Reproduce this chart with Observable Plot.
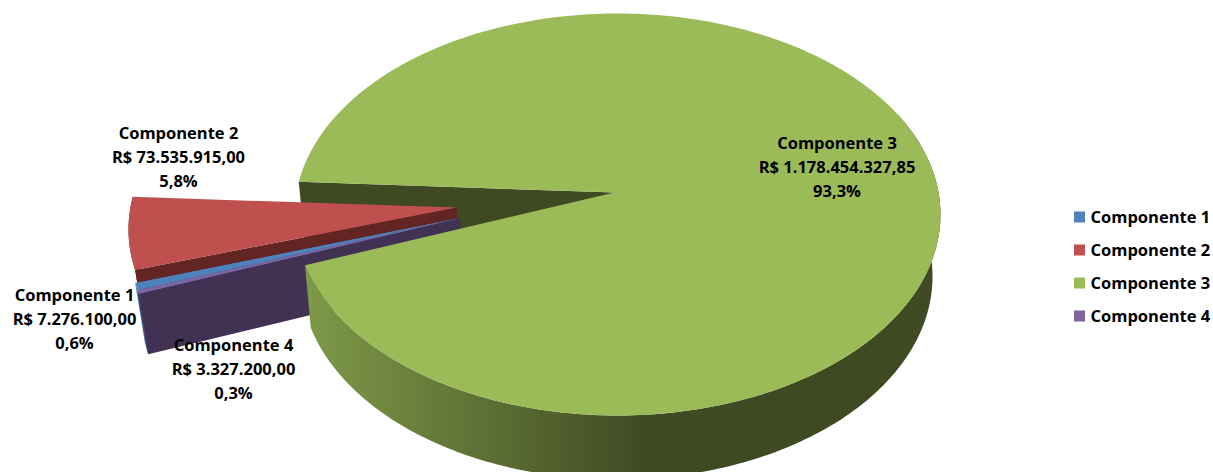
<!DOCTYPE html>
<html>
<head>
<meta charset="utf-8">
<script src="https://cdn.jsdelivr.net/npm/d3@7"></script>
<script src="https://cdn.jsdelivr.net/npm/@observablehq/plot@0.6"></script>
<style>
  html, body { margin: 0; padding: 0; background: #fff; }
  svg { display: block; }
</style>
</head>
<body>
<div id="chart"></div>
<script>
// Investment split between the four components
const names = ["Componente 1", "Componente 2", "Componente 3", "Componente 4"];
const values = [7276100.00, 73535915.00, 1178454327.85, 3327200.00];
const topColors = ["#4f81bd", "#c0504d", "#9bbb59", "#8064a2"];
const wallColors = ["#4f81bd", "#632523", "url(#greenWall)", "#413253"];
const legendRows = [217, 250, 283, 316];

// Where each wedge sits after being pulled out of the pie: centre of the
// elliptical rim, tip of the wedge on the top face, and the offset of the
// bottom face below the top one
const rims = [
  {cx: 451, cy: 242, tipX: 456.5, tipY: 218, lean: 3, depth: 60},
  {cx: 451, cy: 229, tipX: 456, tipY: 207, lean: 3, depth: 60},
  {cx: 617, cy: 214, tipX: 614, tipY: 192, lean: -1, depth: 62},
  {cx: 450.5, cy: 242.5, tipX: 459.5, tipY: 217.5, lean: 3, depth: 60}
];
// Centre of the middle line of each data label
const labelSpots = [[178, 158], [74, 320], [836.5, 168], [233, 370]];
const labelOrder = [1, 0, 2, 3];

const rx = 323, ry = 201;         // top face radii
const rxLow = 316, ryLow = 203;   // bottom face radii
const firstAngle = 166.3 * Math.PI / 180;

const slices = d3.pie().value(d => d).sort(null)
  .startAngle(firstAngle).endAngle(firstAngle + 2 * Math.PI)(values);

const topPoint = (r, a) => ({x: r.cx + rx * Math.cos(a), y: r.cy + ry * Math.sin(a)});
const lowPoint = (r, a) => ({x: r.cx + r.lean + rxLow * Math.cos(a), y: r.cy + r.depth + ryLow * Math.sin(a)});
const angles = (a0, a1) => {
  const n = Math.max(2, Math.ceil(Math.abs(a1 - a0) / (Math.PI / 180)));
  return d3.range(n + 1).map(i => a0 + (a1 - a0) * i / n);
};

const topFace = i => {
  const r = rims[i], s = slices[i];
  return [{x: r.tipX, y: r.tipY}, ...angles(s.startAngle, s.endAngle).map(a => topPoint(r, a))];
};
// Rim wall between two angles
const rimWall = (i, a0, a1) => {
  const r = rims[i], as = angles(a0, a1);
  return [...as.map(a => topPoint(r, a)), ...as.slice().reverse().map(a => lowPoint(r, a))];
};
// Flat cut wall running from the tip out to the rim at angle a
const cutWall = (i, a) => {
  const r = rims[i];
  return [{x: r.tipX, y: r.tipY}, topPoint(r, a), lowPoint(r, a), {x: r.tipX + r.lean, y: r.tipY + r.depth}];
};

const poly = (pts, fill) => Plot.line(pts, {x: "x", y: "y", fill, stroke: "none", curve: "linear-closed"});

// A pulled-out wedge: its cut wall and rim wall, then the top face
const wedge = i => [
  poly(cutWall(i, slices[i].startAngle), wallColors[i]),
  poly(rimWall(i, slices[i].startAngle, slices[i].endAngle), wallColors[i]),
  poly(topFace(i), topColors[i])
];

const total = d3.sum(values);
const br = d3.formatLocale({decimal: ",", thousands: ".", grouping: [3], currency: ["R$ ", ""]});
const money = br.format("$,.2f");
const share = br.format(".1%");
const labels = labelOrder.map((i, k) => ({
  x: labelSpots[k][0], y: labelSpots[k][1],
  text: `${names[i]}\n${money(values[i])}\n${share(values[i] / total)}`
}));
const legend = names.map((name, i) => ({name, y: legendRows[i], color: topColors[i]}));

const textFont = {fontFamily: "'Open Sans', sans-serif", fontWeight: 700, fontSize: 16.5, fill: "#000"};
const big = slices[2];
// The big wedge's front rim is the only part of its rim in view
const frontStart = big.endAngle - (195 * Math.PI / 180);

const chart = Plot.plot({
  width: 1213,
  height: 472,
  margin: 0,
  axis: null,
  x: {domain: [0, 1213], range: [0, 1213]},
  y: {domain: [0, 472], range: [0, 472]},
  style: {background: "#fff"},
  marks: [
    () => {
      const defs = d3.create("svg:defs");
      const g = defs.append("linearGradient").attr("id", "greenWall")
        .attr("gradientUnits", "userSpaceOnUse")
        .attr("x1", 305).attr("x2", 650).attr("y1", 0).attr("y2", 0);
      g.append("stop").attr("offset", 0).attr("stop-color", "#7e9a48");
      g.append("stop").attr("offset", 1).attr("stop-color", "#3f4922");
      return defs.node();
    },
    // Back wall of the gap left in the big wedge
    poly(cutWall(2, big.startAngle), "#3f4922"),
    ...wedge(1),
    ...wedge(0),
    ...wedge(3),
    poly(rimWall(2, frontStart, big.endAngle), "url(#greenWall)"),
    poly(topFace(2), topColors[2]),
    Plot.text(labels, {x: "x", y: "y", dy: -3, text: "text", lineAnchor: "middle", lineHeight: 1.43, textAnchor: "middle", ...textFont}),
    Plot.rect(legend, {
      x1: () => 1074, x2: () => 1085,
      y1: d => d.y - 5.5, y2: d => d.y + 5.5,
      fill: "color"
    }),
    Plot.text(legend, {x: () => 1090, y: "y", text: "name", textAnchor: "start", ...textFont})
  ]
});
document.getElementById("chart").append(chart);
</script>
</body>
</html>
